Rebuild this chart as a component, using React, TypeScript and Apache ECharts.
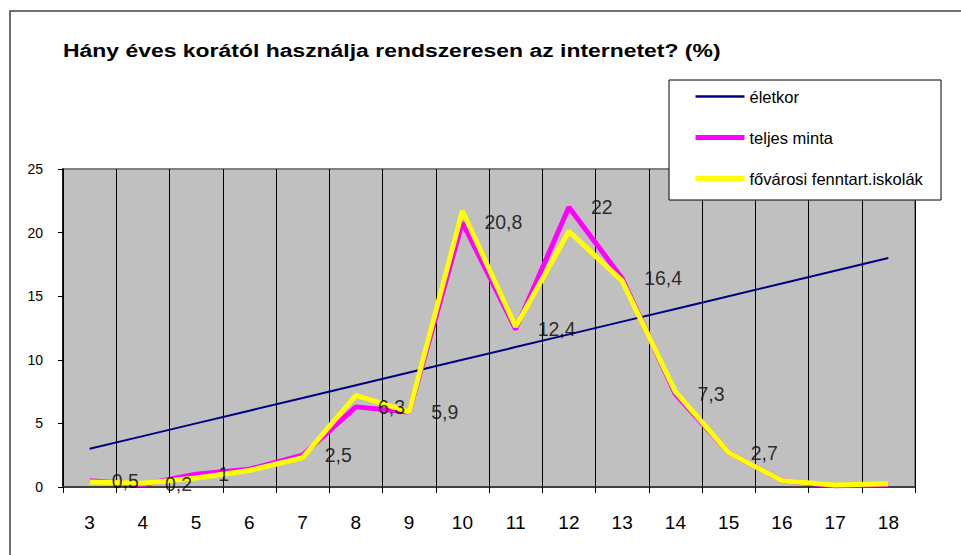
import React, { useEffect, useRef } from "react";
import * as echarts from "echarts";

const ages = ["3", "4", "5", "6", "7", "8", "9", "10", "11", "12", "13", "14", "15", "16", "17", "18"];
const eletkor = [3, 4, 5, 6, 7, 8, 9, 10, 11, 12, 13, 14, 15, 16, 17, 18];
const teljesMinta = [0.5, 0.2, 1, 1.4, 2.5, 6.3, 5.9, 20.8, 12.4, 22, 16.4, 7.3, 2.7, 0.5, 0.1, 0.2];
const fovarosi = [0.4, 0.3, 0.7, 1.3, 2.3, 7.2, 5.9, 21.7, 12.6, 20.1, 16.2, 7.5, 2.7, 0.5, 0.15, 0.25];
const hiddenLabelIdx = [3, 13, 14, 15];
const yTicks = { min: 0, max: 25, interval: 5 };
const titleText = "Hány éves korától használja rendszeresen az internetet? (%)";

const FONT = "'Liberation Sans', Arial, sans-serif";

export default function App() {
  const ref = useRef<HTMLDivElement>(null);
  useEffect(() => {
    if (!ref.current) return;
    const chart = echarts.init(ref.current, undefined, { renderer: "svg" });
    chart.setOption({
      animation: false,
      backgroundColor: "#ffffff",
      textStyle: { fontFamily: FONT },
      graphic: [
        {
          type: "rect",
          shape: { x: 10, y: 11, width: 1000, height: 1000 },
          style: { fill: "none", stroke: "#404040", lineWidth: 1.5 },
          silent: true,
        },
        {
          type: "text",
          x: 63,
          y: 50,
          scaleX: 1.24,
          style: {
            text: titleText,
            fontFamily: FONT,
            fontSize: 18.5,
            fontWeight: "bold",
            fill: "#000",
            verticalAlign: "middle",
            align: "left",
          },
          silent: true,
        },
        {
          type: "rect",
          shape: { x: 669, y: 80, width: 272, height: 120 },
          style: { fill: "#ffffff", stroke: "#000", lineWidth: 1 },
          z: 10,
          silent: true,
        },
      ],
      legend: {
        orient: "vertical",
        left: 688,
        top: 83,
        padding: 5,
        itemWidth: 49,
        itemHeight: 14,
        itemGap: 24,
        z: 20,
        itemStyle: { opacity: 0 },
        textStyle: { fontFamily: FONT, fontSize: 16.5, color: "#000" },
        data: [
          { name: "életkor", lineStyle: { width: 2.5 } },
          { name: "teljes minta", lineStyle: { width: 5 } },
          { name: "fővárosi fenntart.iskolák", lineStyle: { width: 5 } },
        ],
      },
      grid: {
        left: 63,
        top: 169,
        right: 46,
        bottom: 68,
        show: true,
        backgroundColor: "#C0C0C0",
        borderColor: "#808080",
        borderWidth: 2,
      },
      xAxis: {
        type: "category",
        data: ages,
        boundaryGap: true,
        axisLine: { show: true, lineStyle: { color: "#404040", width: 2 } },
        axisTick: { show: true, length: 6, lineStyle: { color: "#000" } },
        axisLabel: { fontFamily: FONT, fontSize: 19, color: "#000", margin: 26 },
        splitLine: { show: true, lineStyle: { color: "#000", width: 1 } },
      },
      yAxis: {
        type: "value",
        min: yTicks.min,
        max: yTicks.max,
        interval: yTicks.interval,
        axisLine: { show: true, lineStyle: { color: "#000", width: 1.5 } },
        axisTick: { show: true, length: 5, lineStyle: { color: "#000" } },
        axisLabel: { fontFamily: FONT, fontSize: 14, color: "#000", margin: 20 },
        splitLine: { show: false },
      },
      series: [
        {
          name: "életkor",
          type: "line",
          data: eletkor,
          symbol: "none",
          lineStyle: { color: "#000080", width: 2 },
          itemStyle: { color: "#000080" },
        },
        {
          name: "teljes minta",
          type: "line",
          data: teljesMinta,
          symbol: "none",
          lineStyle: { color: "#FF00FF", width: 5 },
          itemStyle: { color: "#FF00FF" },
          z: 3,
        },
        {
          name: "fővárosi fenntart.iskolák",
          type: "line",
          data: fovarosi,
          symbol: "none",
          lineStyle: { color: "#FFFF00", width: 5 },
          itemStyle: { color: "#FFFF00" },
          z: 4,
        },
        {
          name: "teljes minta címkék",
          type: "scatter",
          data: teljesMinta,
          symbolSize: 0,
          silent: true,
          itemStyle: { color: "rgba(0,0,0,0)" },
          label: {
            show: true,
            position: "right",
            distance: 22,
            fontFamily: FONT,
            fontSize: 19.5,
            color: "#000",
            formatter: (p: any) =>
              hiddenLabelIdx.includes(p.dataIndex) ? "" : String(p.value).replace(".", ","),
          },
          z: 10,
        },
      ],
    });
    return () => chart.dispose();
  }, []);
  return (
    <div
      ref={ref}
      style={{ position: "fixed", left: 0, top: 0, width: 961, height: 555 }}
    />
  );
}
